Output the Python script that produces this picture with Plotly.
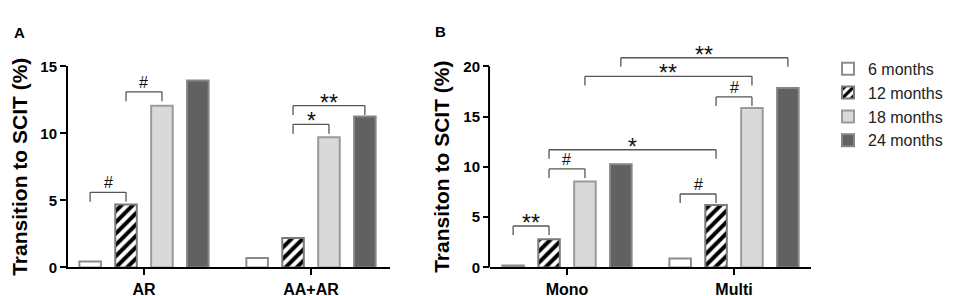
import plotly.graph_objects as go

# ---------------- data ----------------
series_names = ["6 months", "12 months", "18 months", "24 months"]

cats_A = ["AR", "AA+AR"]
vals_A_6m = [0.45, 0.7]
vals_A_12m = [4.7, 2.2]
vals_A_18m = [12.05, 9.7]
vals_A_24m = [13.95, 11.25]

cats_B = ["Mono", "Multi"]
vals_B_6m = [0.2, 0.9]
vals_B_12m = [2.8, 6.2]
vals_B_18m = [8.55, 15.85]
vals_B_24m = [10.25, 17.85]

yticks_A = [0, 5, 10, 15]
yticks_B = [0, 5, 10, 15, 20]

# significance brackets: (group, series) -> (group, series), bracket height, label
brackets_A = [
    ((0, 0), (0, 1), 5.6, "#"),
    ((0, 1), (0, 2), 13.1, "#"),
    ((1, 1), (1, 2), 10.67, "*"),
    ((1, 1), (1, 3), 12.07, "**"),
]
brackets_B = [
    ((0, 0), (0, 1), 4.12, "**"),
    ((0, 1), (0, 2), 9.8, "#"),
    ((0, 1), (1, 1), 11.7, "*"),
    ((1, 0), (1, 1), 7.3, "#"),
    ((1, 1), (1, 2), 16.95, "#"),
    ((0, 2), (1, 2), 19.0, "**"),
    ((0, 3), (1, 3), 20.85, "**"),
]

# ---------------- styles ----------------
W, H = 957, 296
FONT = "Liberation Sans, Arial, Helvetica, sans-serif"
BARGAP = 0.14
BARGROUPGAP = 0.4
styles = [
    dict(color="#ffffff", line=dict(color="#8c8c8c", width=2)),
    dict(color="#ffffff", line=dict(color="#7a7a7a", width=2),
         pattern=dict(shape="/", fgcolor="#000000", bgcolor="#ffffff", fgopacity=1,
                      fillmode="replace", size=8, solidity=0.5)),
    dict(color="#d9d9d9", line=dict(color="#9a9a9a", width=2)),
    dict(color="#616161", line=dict(color="#858585", width=2)),
]


def px_x(p):
    return p / W


def px_y(p):
    return 1 - p / H


fig = go.Figure()

panels = [
    (cats_A, [vals_A_6m, vals_A_12m, vals_A_18m, vals_A_24m], "x", "y", True),
    (cats_B, [vals_B_6m, vals_B_12m, vals_B_18m, vals_B_24m], "x2", "y2", False),
]
for cats, vals_list, xa, ya, show in panels:
    for k, (name, vals) in enumerate(zip(series_names, vals_list)):
        fig.add_trace(go.Bar(
            x=cats, y=vals, name=name, marker=styles[k],
            xaxis=xa, yaxis=ya, showlegend=show, legendgroup=name,
        ))

slot = (1 - BARGAP) / 4


def bar_x(group, series):
    return group + (series - 1.5) * slot


def add_brackets(brs, xa, ya, leg):
    for (a, b, top, label) in brs:
        x0, x1 = bar_x(*a), bar_x(*b)
        line = dict(color="#555555", width=1.3)
        fig.add_shape(type="line", xref=xa, yref=ya, x0=x0, x1=x1, y0=top, y1=top, line=line)
        fig.add_shape(type="line", xref=xa, yref=ya, x0=x0, x1=x0, y0=top, y1=top - leg, line=line)
        fig.add_shape(type="line", xref=xa, yref=ya, x0=x1, x1=x1, y0=top, y1=top - leg, line=line)
        star = "*" in label
        fig.add_annotation(
            x=(x0 + x1) / 2, y=top, xref=xa, yref=ya, text=label, showarrow=False,
            yanchor="bottom", yshift=(-12 if star else -1),
            font=dict(family=FONT, size=(23 if star else 16), color="#111111"),
        )


add_brackets(brackets_A, "x", "y", 0.7)
add_brackets(brackets_B, "x2", "y2", 0.9)

# y-axis line for panel B only up to 20
fig.add_shape(type="line", xref="x2 domain", yref="y2", x0=-0.003, x1=-0.003, y0=0, y1=20,
              line=dict(color="black", width=2))

axis_common = dict(showgrid=False, zeroline=False, ticks="outside", ticklen=6, tickwidth=2,
                   tickcolor="black", linecolor="black", linewidth=2)
yfont = dict(family=FONT, size=15, color="black", weight="bold")
xfont = dict(family=FONT, size=16, color="black", weight="bold")

y0px, ytopA = 265.7, 52.3
fig.update_layout(
    width=W, height=H, margin=dict(l=0, r=0, t=0, b=0),
    paper_bgcolor="white", plot_bgcolor="white",
    barmode="group", bargap=BARGAP, bargroupgap=BARGROUPGAP,
    font=dict(family=FONT, color="black"),
    xaxis=dict(domain=[px_x(60), px_x(382)], range=[-0.455, 1.473], anchor="y",
               showline=True, tickfont=xfont, **axis_common),
    yaxis=dict(domain=[px_y(y0px), px_y(ytopA)], range=[0, 15], tickvals=yticks_A,
               anchor="x", showline=True, tickfont=yfont, **axis_common),
    xaxis2=dict(domain=[px_x(482), px_x(803)], range=[-0.461, 1.461], anchor="y2",
                showline=True, tickfont=xfont, **axis_common),
    yaxis2=dict(domain=[px_y(y0px), px_y(y0px - 21.5 * (y0px - ytopA) / 20)], range=[0, 21.5],
                tickvals=yticks_B, anchor="x2", showline=False, tickfont=yfont, **axis_common),
    legend=dict(x=px_x(820), y=px_y(37), xanchor="left", yanchor="top",
                font=dict(family=FONT, size=16, color="#222222"), bgcolor="rgba(0,0,0,0)",
                traceorder="normal"),
)

# axis titles and panel letters
fig.add_annotation(text="Transition to SCIT (%)", xref="paper", yref="y", x=px_x(12), y=7.5,
                   textangle=-90, showarrow=False, xanchor="center", yanchor="middle",
                   font=dict(family=FONT, size=21, color="black", weight="bold"))
fig.add_annotation(text="Transiton to SCIT (%)", xref="paper", yref="y2", x=px_x(434), y=10,
                   textangle=-90, showarrow=False, xanchor="center", yanchor="middle",
                   font=dict(family=FONT, size=21, color="black", weight="bold"))
fig.add_annotation(text="A", xref="paper", yref="paper", x=px_x(11), y=px_y(16),
                   showarrow=False, xanchor="center", yanchor="middle",
                   font=dict(family=FONT, size=15, color="black", weight="bold"))
fig.add_annotation(text="B", xref="paper", yref="paper", x=px_x(432), y=px_y(15),
                   showarrow=False, xanchor="center", yanchor="middle",
                   font=dict(family=FONT, size=15, color="black", weight="bold"))

fig.write_html("out.html")
